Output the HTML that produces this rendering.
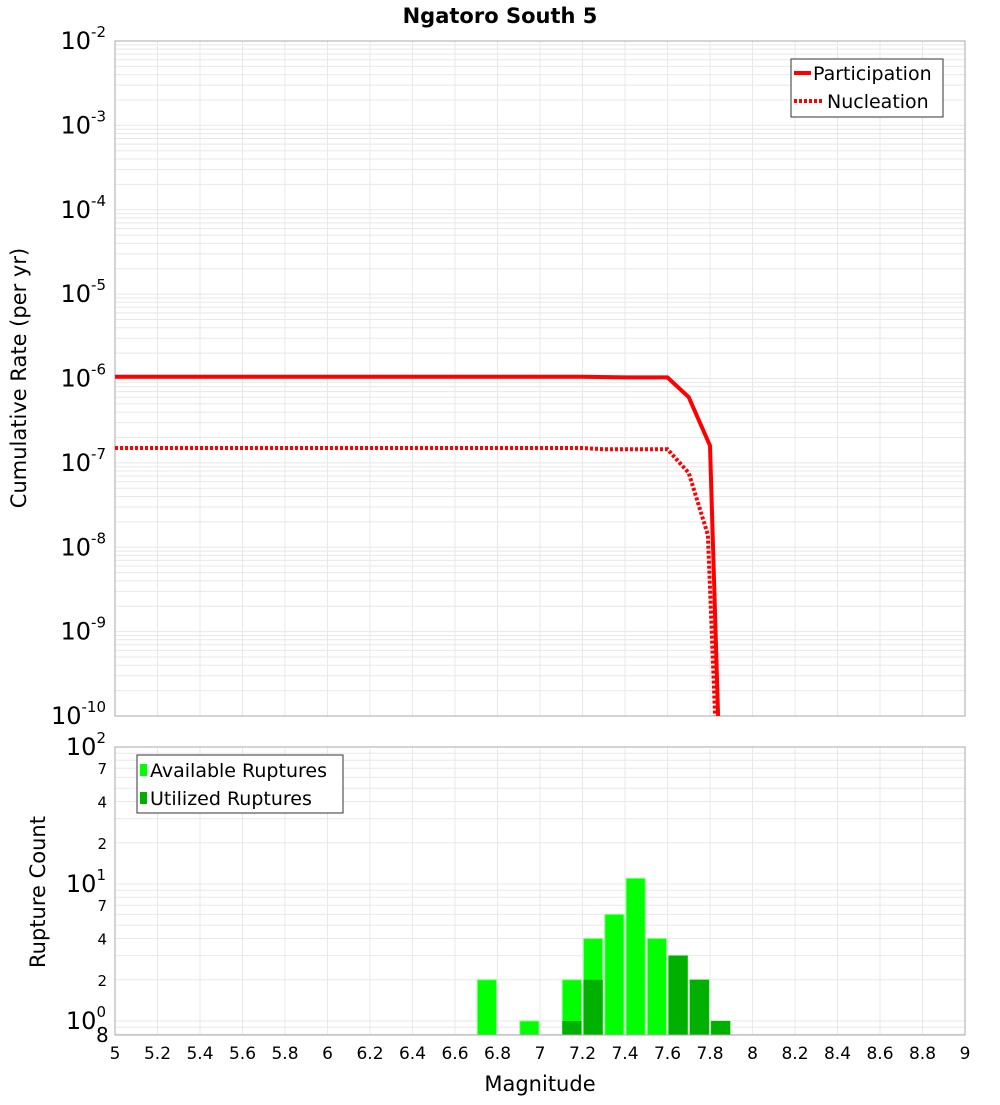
<!DOCTYPE html>
<html><head><meta charset="utf-8"><style>
body{margin:0;background:#fff;font-family:"Liberation Sans","DejaVu Sans",sans-serif}
svg text{font-family:"DejaVu Sans","Liberation Sans",sans-serif}
</style></head><body>
<svg id="c" width="1000" height="1100" xmlns="http://www.w3.org/2000/svg">
<text x="500" y="23" text-anchor="middle" font-size="21" font-weight="bold">Ngatoro South 5</text>
<g id="topG"></g>
<g id="botG"></g>
<text transform="translate(26,378) rotate(-90)" text-anchor="middle" font-size="21">Cumulative Rate (per yr)</text>
<text transform="translate(45,892) rotate(-90)" text-anchor="middle" font-size="21">Rupture Count</text>
<text x="540" y="1091" text-anchor="middle" font-size="21">Magnitude</text>
<g id="legs"></g>
</svg>
<script>
const partMags=[5,6,7,7.2,7.4,7.6,7.7,7.8,7.85];
const partRates=[1.05e-6,1.05e-6,1.05e-6,1.05e-6,1.03e-6,1.03e-6,6e-7,1.6e-7,1e-11];
const nuclMags=[5,6,7,7.2,7.3,7.6,7.7,7.79,7.84];
const nuclRates=[1.5e-7,1.5e-7,1.5e-7,1.5e-7,1.45e-7,1.45e-7,7.6e-8,1.4e-8,1e-11];
const binMags=[6.75,6.95,7.15,7.25,7.35,7.45,7.55,7.65,7.75,7.85];
const availCounts=[2,1,2,4,6,11,4,3,2,1];
const usedCounts=[0,0,1,2,0,0,0,3,2,1];
const xTicks=[5,5.2,5.4,5.6,5.8,6,6.2,6.4,6.6,6.8,7,7.2,7.4,7.6,7.8,8,8.2,8.4,8.6,8.8,9];
const NS='http://www.w3.org/2000/svg';
const L=115,R=965,T1=41,B1=716,T2=747,B2=1035;
const X=m=>L+(m-5)/4*(R-L);
const Y1=v=>T1+(-2-Math.log10(v))*(B1-T1)/8;
const Y2=v=>1021-137*Math.log10(v);
function mk(p,t,a){const e=document.createElementNS(NS,t);for(const k in a)e.setAttribute(k,a[k]);p.appendChild(e);return e;}
const svgEl=document.getElementById('c');
const topG=document.getElementById('topG'),botG=document.getElementById('botG');
const defs=mk(svgEl,'defs',{});
const cp=mk(defs,'clipPath',{id:'cp1'});mk(cp,'rect',{x:L,y:T1,width:R-L,height:B1-T1});
const cp2=mk(defs,'clipPath',{id:'cp2'});mk(cp2,'rect',{x:L,y:T2,width:R-L,height:B2-T2});
for(let d=-10;d<-2;d++)for(let k=1;k<10;k++){const y=Y1(k*Math.pow(10,d));const g=mk(topG,'line',{x1:L,x2:R,y1:y,y2:y,stroke:'#e8e8e8','stroke-width':1});

}
xTicks.forEach(m=>{const g=mk(topG,'line',{x1:X(m),x2:X(m),y1:T1,y2:B1,stroke:'#e8e8e8'});


const h=mk(botG,'line',{x1:X(m),x2:X(m),y1:T2,y2:B2,stroke:'#e8e8e8'});


const t=mk(botG,'text',{x:X(m),y:1059,'text-anchor':'middle','font-size':17});t.textContent=String(m);

});
mk(topG,'rect',{x:L,y:T1,width:R-L,height:B1-T1,fill:'none',stroke:'#aaa'});
for(let d=-10;d<=-2;d++){const t=mk(topG,'text',{x:106,y:Y1(Math.pow(10,d))+8,'text-anchor':'end','font-size':24});
t.innerHTML='10<tspan dy="-12" font-size="15">'+d+'</tspan>';

}
function line(ms,vs,dash,name){const pts=ms.map((m,i)=>X(m)+','+Y1(vs[i])).join(' ');
const p=mk(topG,'polyline',{points:pts,fill:'none',stroke:'red','stroke-width':4,'clip-path':'url(#cp1)'});
if(dash)p.setAttribute('stroke-dasharray','3,2');

}
line(partMags,partRates,false,'participation-line');
line(nuclMags,nuclRates,true,'nucleation-line');
for(let d=-1;d<2;d++)for(let k=1;k<10;k++){const v=k*Math.pow(10,d);if(v<0.8)continue;const y=Y2(v);
const g=mk(botG,'line',{x1:L,x2:R,y1:y,y2:y,stroke:'#e8e8e8'});

}
const bw=(X(5.1)-X(5))*0.9;
binMags.forEach((m,i)=>{const v=availCounts[i];if(v>0){const r=mk(botG,'rect',{x:X(m)-bw/2,y:Y2(v),width:bw,height:B2-Y2(v),fill:'#00ff00',stroke:'#80ff80','stroke-width':1,'clip-path':'url(#cp2)'});

}
const u=usedCounts[i];if(u>0){const r=mk(botG,'rect',{x:X(m)-bw/2,y:Y2(u),width:bw,height:B2-Y2(u),fill:'#00b000','clip-path':'url(#cp2)'});

}});
mk(botG,'rect',{x:L,y:T2,width:R-L,height:B2-T2,fill:'none',stroke:'#aaa'});
[[100,'2'],[10,'1'],[1,'0']].forEach(([v,e])=>{const t=mk(botG,'text',{x:106,y:Y2(v)+8,'text-anchor':'end','font-size':24});
t.innerHTML='10<tspan dy="-12" font-size="15">'+e+'</tspan>';

});
[[70,'7'],[40,'4'],[20,'2'],[7,'7'],[4,'4'],[2,'2']].forEach(([v,s])=>{const t=mk(botG,'text',{x:107,y:Y2(v)+6,'text-anchor':'end','font-size':15});t.textContent=s;

});
const t8=mk(botG,'text',{x:96,y:1042,'font-size':20});t8.textContent='8';


const legs=document.getElementById('legs');
legs.innerHTML=`<g>
<rect x="791" y="59" width="152" height="58" fill="#fff" stroke="#333" stroke-width="1"/>
<line x1="794" y1="73" x2="811" y2="73" stroke="red" stroke-width="4"/>
<text x="813" y="80" font-size="19">Participation</text>
<line x1="794" y1="101" x2="822" y2="101" stroke="red" stroke-width="4" stroke-dasharray="3,2"/>
<text x="827" y="108" font-size="19">Nucleation</text>
</g>
<g>
<rect x="137" y="755" width="206" height="58" fill="#fff" stroke="#333" stroke-width="1"/>
<rect x="140" y="764" width="7" height="12" fill="#00ff00"/>
<text x="150" y="777" font-size="19">Available Ruptures</text>
<rect x="140" y="792" width="7" height="12" fill="#00b000"/>
<text x="150" y="805" font-size="19">Utilized Ruptures</text>
</g>`;
svgEl.appendChild(legs);
</script>
</body></html>
